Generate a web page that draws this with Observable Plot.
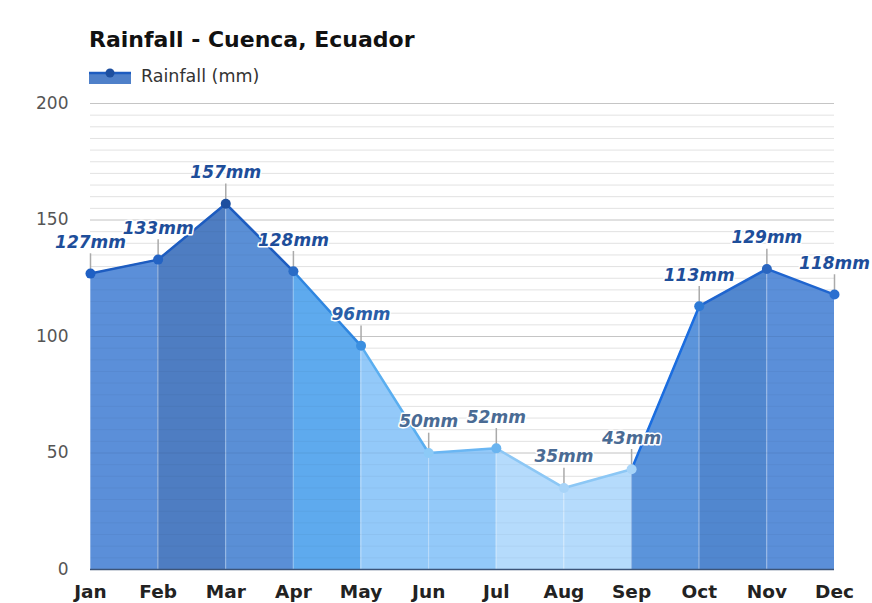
<!DOCTYPE html>
<html>
<head>
<meta charset="utf-8">
<script src="https://cdn.jsdelivr.net/npm/d3@7"></script>
<script src="https://cdn.jsdelivr.net/npm/@observablehq/plot@0.6"></script>
<style>
  html, body { margin: 0; padding: 0; background: #fff; }
  #wrap { position: relative; width: 872px; height: 603px; font-family: "DejaVu Sans", sans-serif; overflow: hidden; }
  #title { position: absolute; left: 89px; top: 27px; font-size: 22px; font-weight: bold; color: #111; }
  #legend { position: absolute; left: 89px; top: 64px; height: 24px; display: flex; align-items: center; }
  #legend svg { display: block; }
  #legend span { margin-left: 10px; font-size: 17.5px; color: #333; }
  #chart { position: absolute; left: 0; top: 95px; }
</style>
</head>
<body>
<div id="wrap">
  <div id="title">Rainfall - Cuenca, Ecuador</div>
  <div id="legend">
    <svg width="42" height="16" viewBox="0 0 42 16">
      <rect x="0" y="4" width="42" height="12" fill="#4f80c9"></rect>
      <line x1="0" y1="5" x2="42" y2="5" stroke="#1d5cc0" stroke-width="2.5"></line>
      <circle cx="21" cy="5" r="4.5" fill="#1d4f9f"></circle>
    </svg>
    <span>Rainfall (mm)</span>
  </div>
  <div id="chart"></div>
</div>
<script>
const months = ["Jan","Feb","Mar","Apr","May","Jun","Jul","Aug","Sep","Oct","Nov","Dec"];
const rainfall = [127, 133, 157, 128, 96, 50, 52, 35, 43, 113, 129, 118];
const yTicks = [0, 50, 100, 150, 200];

// styles (per segment / per point)
const segFill = ["#5b8fd9","#4e7dc2","#5a8fd6","#5eaaee","#93c9f9","#93c9f9","#b5dbfc","#b5dbfc","#5b94db","#5187cf","#5b8fd9"];
const segStroke = ["#1d5cc0","#1d5cc0","#1d5cc0","#2f86e0","#5aaef0","#6ab6f3","#8cc7f5","#8cc7f5","#1a6de0","#1f65cf","#1f65cf"];
const dotFill = ["#1f60c4","#2363c4","#1d4f9f","#2a6cc6","#3b8fe0","#8ccaf7","#6ab4f0","#a8d4f8","#a8d4f8","#2d7ad6","#2a66c0","#2a6fd0"];
const labelFill = ["#1e4e9a","#1e4e9a","#1e4e9a","#1e4e9a","#2a5ea8","#4a6b94","#4a6b94","#4a6b94","#4a6b94","#1e4e9a","#1e4e9a","#1e4e9a"];

const points = months.map((m, i) => ({m, v: rainfall[i], i}));
const segs = [];
for (let i = 0; i < months.length - 1; i++) {
  segs.push({m: months[i], v: rainfall[i], seg: i, fill: segFill[i], stroke: segStroke[i]});
  segs.push({m: months[i + 1], v: rainfall[i + 1], seg: i, fill: segFill[i], stroke: segStroke[i]});
}
const minor = d3.range(0, 201, 5).filter(v => v % 50 !== 0);

const chart = Plot.plot({
  width: 872,
  height: 508,
  marginLeft: 90,
  marginRight: 38,
  marginTop: 8,
  marginBottom: 34,
  style: {fontFamily: "'DejaVu Sans', sans-serif", background: "transparent", overflow: "visible"},
  x: {type: "point", domain: months, range: [90, 834], padding: 0, insetLeft: 0, insetRight: 0, round: false},
  y: {domain: [0, 200]},
  color: {type: "identity"},
  marks: [
    Plot.ruleY(minor, {stroke: "#ebebeb", strokeWidth: 1}),
    Plot.ruleY(yTicks, {stroke: "#d4d4d4", strokeWidth: 1}),
    Plot.areaY(segs, {x: "m", y1: 0, y2: "v", z: "seg", fill: "fill", fillOpacity: 1, curve: "linear"}),
    Plot.ruleY(minor, {stroke: "#000", strokeOpacity: 0.04}),
    Plot.ruleY(yTicks, {stroke: "#000", strokeOpacity: 0.07}),
    Plot.ruleX(points, {x: "m", y1: 0, y2: "v", stroke: "#fff", strokeOpacity: 0.3}),
    Plot.ruleY([0], {stroke: "#3c5478", strokeWidth: 1.5}),
    Plot.lineY(segs, {x: "m", y: "v", z: "seg", stroke: "stroke", strokeWidth: 2.5}),
    Plot.ruleX(points, {x: "m", y1: "v", y2: d => d.v + 8.5, stroke: "#aaa", strokeWidth: 1.5}),
    Plot.dot(points, {x: "m", y: "v", r: 5, fill: d => dotFill[d.i], stroke: "none"}),
    Plot.text(points, {x: "m", y: "v", text: d => d.v + "mm", dy: -31, fill: d => labelFill[d.i],
      fontSize: 17, fontWeight: "bold", fontStyle: "italic", stroke: "#fff", strokeWidth: 3, paintOrder: "stroke"}),
    Plot.axisY(yTicks, {tickSize: 0, tickPadding: 22, fontSize: 17, fill: "#555", label: null}),
    Plot.axisX({tickSize: 0, tickPadding: 15, fontSize: 18.5, fontWeight: "bold", fill: "#222", label: null})
  ]
});
document.getElementById("chart").appendChild(chart);
</script>
</body>
</html>
